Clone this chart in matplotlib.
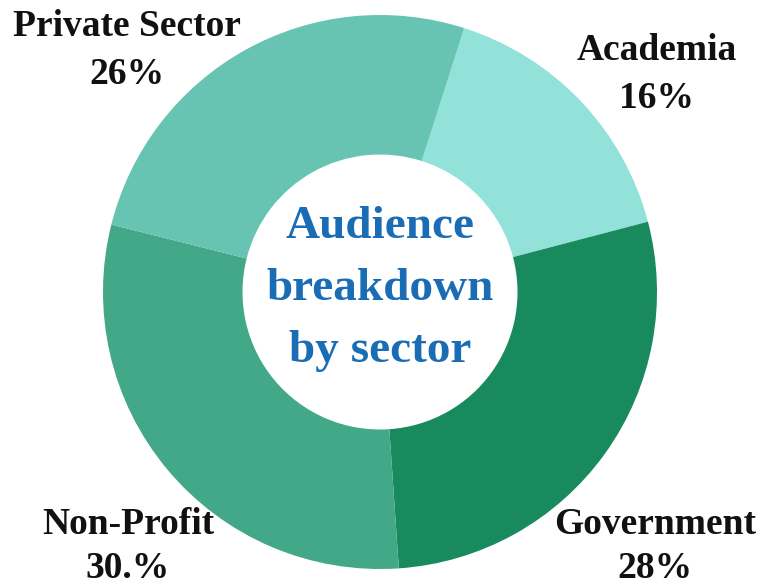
import matplotlib
matplotlib.use("Agg")
import matplotlib.pyplot as plt

categories = ["Academia", "Government", "Non-Profit", "Private Sector"]
values = [16, 28, 30, 26]
pct_labels = ["16%", "28%", "30.%", "26%"]
colors = ["#92e2da", "#188a5e", "#42a887", "#68c4b2"]
title = "Audience\nbreakdown\nby sector"

W, H = 778, 587
fig = plt.figure(figsize=(W / 100, H / 100), dpi=100)
ax = fig.add_axes([0, 0, 1, 1])

cx, cy, r = 380, 292, 277
# y axis is inverted (pixel coords), so angles are mirrored
ax.pie(values, colors=colors, startangle=-72.3, counterclock=True,
       center=(cx, cy), radius=r, frame=True,
       wedgeprops=dict(width=r - 137.5, linewidth=0))
ax.set_xlim(0, W)
ax.set_ylim(H, 0)
ax.set_aspect("equal")
ax.axis("off")

# label positions (pixel coordinates): (x, name y, percent y)
label_pos = {"Academia": (657, 51, 98), "Government": (655, 524, 568),
             "Non-Profit": (128, 524, 568), "Private Sector": (127, 27, 74)}
serif = ["Liberation Serif", "DejaVu Serif"]
for cat, pct in zip(categories, pct_labels):
    x, y1, y2 = label_pos[cat]
    ax.text(x, y1, cat, ha="center", va="center", fontsize=27,
            fontweight="bold", family=serif, color="#111111")
    ax.text(x, y2, pct, ha="center", va="center", fontsize=27,
            fontweight="bold", family=serif, color="#111111")

ax.text(cx, 289, title, ha="center", va="center", fontsize=34,
        fontweight="bold", family=serif, color="#1a6db5", linespacing=1.63)

fig.savefig("out.png", dpi=100)
